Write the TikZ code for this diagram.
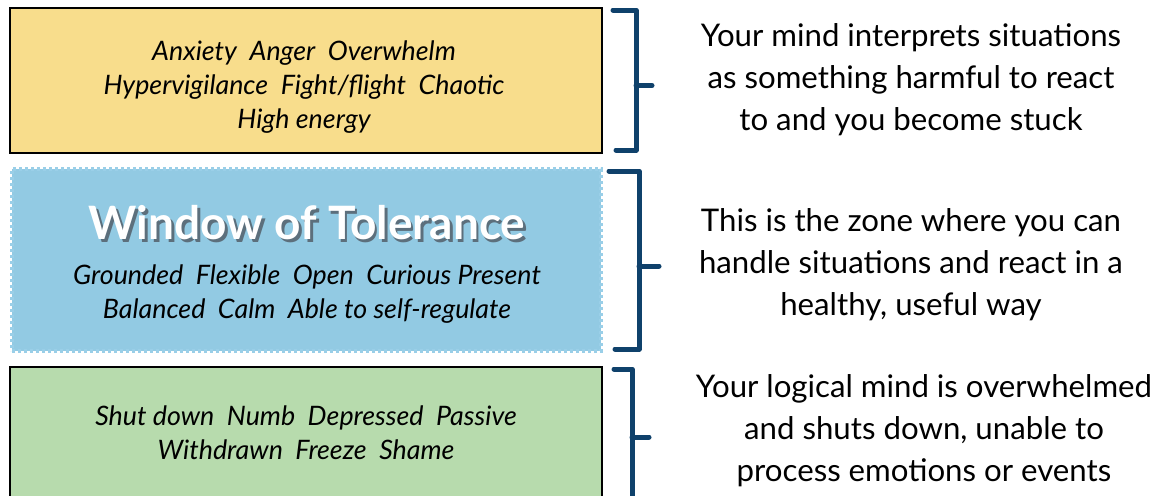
\documentclass[tikz,border=0pt]{standalone}
\usepackage{fontspec}
\setmainfont{Lato}
\usetikzlibrary{positioning,calc}

\definecolor{hyperfill}{HTML}{F8DD8C}
\definecolor{windowfill}{HTML}{92CAE3}
\definecolor{windowedge}{HTML}{9ACFE8}
\definecolor{hypofill}{HTML}{B7DBAD}
\definecolor{bracketblue}{HTML}{0F416B}
\definecolor{titleshade}{HTML}{5C6F7C}

\begin{document}
\begin{tikzpicture}[x=0.5pt,y=-0.5pt]

\tikzset{zone/.style={draw=black, line width=1pt, outer sep=0pt, inner sep=0pt},
         windowzone/.style={fill=windowfill, outer sep=0pt, inner sep=0pt,
             preaction={draw=white, line width=2pt},
             draw=windowedge, line width=2pt, dash pattern=on 1.6pt off 1.4pt},
         feelings/.style={align=center, font=\fontsize{13.4}{17}\selectfont\itshape},
         meaning/.style={align=center, font=\fontsize{15.6}{21}\selectfont},
         bracket/.style={draw=bracketblue, line width=2.5pt, line cap=round, line join=round}}

\useasboundingbox (0,0) rectangle (1167,495);

\node[zone, fill=hyperfill, minimum width=296pt, minimum height=72.5pt] (hyper) at (306,80.5) {};
\node[windowzone, minimum width=294.5pt, minimum height=91pt] (window) at (306.5,260) {};
\node[zone, fill=hypofill, minimum width=296pt, minimum height=73pt] (hypo) at (306,440) {};

\node[feelings] (hyperText) at (304,87) {Anxiety\ \ Anger\ \ Overwhelm\\Hypervigilance\ \ Fight/flight\ \ Chaotic\\High energy};
\node[font=\fontsize{23}{28}\selectfont\bfseries, text=titleshade] (titleShadow) at (309.5,226) {Window of Tolerance};
\node[font=\fontsize{23}{28}\selectfont\bfseries, text=white] (title) at (307,223) {Window of Tolerance};
\node[feelings] (windowText) at (307,294) {Grounded\ \ Flexible\ \ Open\ \ Curious Present\\Balanced\ \ Calm\ \ Able to self-regulate};
\node[feelings] (hypoText) at (306,433) {Shut down\ \ Numb\ \ Depressed\ \ Passive\\Withdrawn\ \ Freeze\ \ Shame};

\node[meaning] (hyperMeaning) at (911,80) {Your mind interprets situations\\as something harmful to react\\to and you become stuck};
\node[meaning] (windowMeaning) at (911,265) {This is the zone where you can\\handle situations and react in a\\healthy, useful way};
\node[meaning] (hypoMeaning) at (924,431) {Your logical mind is overwhelmed\\and shuts down, unable to\\process emotions or events};

% brackets
\draw[bracket] ($(hyper.north east)+(11,2)$) -| ($(hyper.south east)+(34,-3)$) -- ++(-20,0);
\draw[bracket] ($(hyper.east)+(34,5)$) -- ++(16,0);
\draw[bracket] ($(window.north east)+(8,2)$) -| ($(window.south east)+(38,-2)$) -- ++(-24,0);
\draw[bracket] ($(window.east)+(38,6)$) -- ++(20,0);
\draw[bracket] ($(hypo.north east)+(12,2)$) -| ($(hypo.south east)+(30,0)$) -- ++(-18,0);
\draw[bracket] ($(hypo.east)+(30,-3)$) -- ++(17,0);

\end{tikzpicture}
\end{document}
